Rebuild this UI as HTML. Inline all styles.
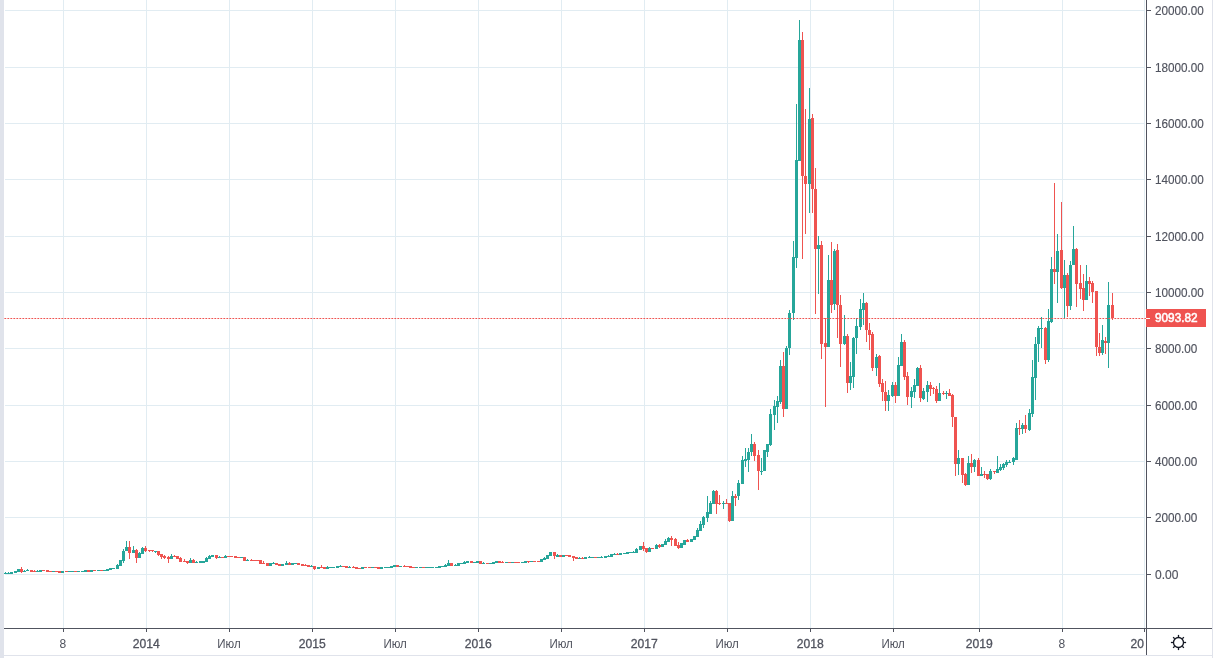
<!DOCTYPE html>
<html lang="ru">
<head>
<meta charset="utf-8">
<title>BTCUSD</title>
<style>
html,body{margin:0;padding:0;background:#ffffff;}
body{width:1213px;height:658px;overflow:hidden;font-family:"Liberation Sans",Arial,sans-serif;}
svg{display:block;position:absolute;left:0;top:0;}
</style>
</head>
<body>
<svg width="1213" height="658" viewBox="0 0 1213 658" shape-rendering="crispEdges">
<rect x="0" y="0" width="1213" height="658" fill="#ffffff"/>
<g fill="#e1ecf2">
<rect x="63" y="0" width="1" height="628"/>
<rect x="146" y="0" width="1" height="628"/>
<rect x="229" y="0" width="1" height="628"/>
<rect x="312" y="0" width="1" height="628"/>
<rect x="395" y="0" width="1" height="628"/>
<rect x="478" y="0" width="1" height="628"/>
<rect x="561" y="0" width="1" height="628"/>
<rect x="644" y="0" width="1" height="628"/>
<rect x="727" y="0" width="1" height="628"/>
<rect x="810" y="0" width="1" height="628"/>
<rect x="893" y="0" width="1" height="628"/>
<rect x="979" y="0" width="1" height="628"/>
<rect x="1062" y="0" width="1" height="628"/>
<rect x="1144" y="0" width="1" height="628"/>
<rect x="5" y="10" width="1140" height="1"/>
<rect x="5" y="67" width="1140" height="1"/>
<rect x="5" y="123" width="1140" height="1"/>
<rect x="5" y="179" width="1140" height="1"/>
<rect x="5" y="236" width="1140" height="1"/>
<rect x="5" y="292" width="1140" height="1"/>
<rect x="5" y="348" width="1140" height="1"/>
<rect x="5" y="405" width="1140" height="1"/>
<rect x="5" y="461" width="1140" height="1"/>
<rect x="5" y="517" width="1140" height="1"/>
<rect x="5" y="574" width="1140" height="1"/>
</g>
<g>
<g fill="#26a69a"><rect x="5" y="572" width="1" height="2"/><rect x="4" y="573" width="3" height="1"/></g>
<g fill="#26a69a"><rect x="8" y="572" width="1" height="2"/><rect x="7" y="573" width="3" height="1"/></g>
<g fill="#26a69a"><rect x="10" y="572" width="3" height="2"/></g>
<g fill="#26a69a"><rect x="14" y="571" width="3" height="2"/></g>
<g fill="#26a69a"><rect x="17" y="569" width="3" height="3"/></g>
<g fill="#ef5350"><rect x="21" y="567" width="1" height="6"/><rect x="20" y="569" width="3" height="3"/></g>
<g fill="#26a69a"><rect x="24" y="570" width="1" height="2"/><rect x="23" y="571" width="3" height="1"/></g>
<g fill="#26a69a"><rect x="27" y="569" width="1" height="2"/><rect x="26" y="570" width="3" height="1"/></g>
<g fill="#ef5350"><rect x="30" y="570" width="3" height="2"/></g>
<g fill="#ef5350"><rect x="34" y="570" width="1" height="2"/><rect x="33" y="571" width="3" height="1"/></g>
<g fill="#26a69a"><rect x="37" y="570" width="1" height="2"/><rect x="36" y="571" width="3" height="1"/></g>
<g fill="#26a69a"><rect x="39" y="570" width="3" height="2"/></g>
<g fill="#ef5350"><rect x="42" y="570" width="3" height="1"/></g>
<g fill="#ef5350"><rect x="46" y="570" width="3" height="2"/></g>
<g fill="#ef5350"><rect x="49" y="571" width="3" height="1"/></g>
<g fill="#26a69a"><rect x="52" y="571" width="3" height="1"/></g>
<g fill="#ef5350"><rect x="55" y="571" width="3" height="1"/></g>
<g fill="#ef5350"><rect x="58" y="571" width="3" height="2"/></g>
<g fill="#26a69a"><rect x="61" y="571" width="3" height="2"/></g>
<g fill="#ef5350"><rect x="65" y="571" width="3" height="1"/></g>
<g fill="#26a69a"><rect x="68" y="571" width="3" height="1"/></g>
<g fill="#26a69a"><rect x="71" y="571" width="3" height="1"/></g>
<g fill="#ef5350"><rect x="74" y="571" width="3" height="1"/></g>
<g fill="#26a69a"><rect x="77" y="571" width="3" height="1"/></g>
<g fill="#26a69a"><rect x="81" y="571" width="3" height="1"/></g>
<g fill="#26a69a"><rect x="84" y="570" width="3" height="2"/></g>
<g fill="#ef5350"><rect x="87" y="570" width="3" height="2"/></g>
<g fill="#26a69a"><rect x="90" y="570" width="3" height="2"/></g>
<g fill="#ef5350"><rect x="93" y="570" width="3" height="1"/></g>
<g fill="#26a69a"><rect x="97" y="570" width="3" height="1"/></g>
<g fill="#ef5350"><rect x="100" y="570" width="3" height="1"/></g>
<g fill="#26a69a"><rect x="103" y="570" width="3" height="1"/></g>
<g fill="#26a69a"><rect x="106" y="569" width="3" height="2"/></g>
<g fill="#26a69a"><rect x="109" y="568" width="3" height="2"/></g>
<g fill="#26a69a"><rect x="112" y="568" width="3" height="1"/></g>
<g fill="#26a69a"><rect x="117" y="564" width="1" height="5"/><rect x="116" y="565" width="3" height="4"/></g>
<g fill="#26a69a"><rect x="119" y="560" width="3" height="6"/></g>
<g fill="#26a69a"><rect x="123" y="549" width="1" height="14"/><rect x="122" y="551" width="3" height="10"/></g>
<g fill="#26a69a"><rect x="126" y="541" width="1" height="10"/><rect x="125" y="547" width="3" height="4"/></g>
<g fill="#ef5350"><rect x="129" y="541" width="1" height="18"/><rect x="128" y="547" width="3" height="6"/></g>
<g fill="#26a69a"><rect x="133" y="546" width="1" height="7"/><rect x="132" y="550" width="3" height="3"/></g>
<g fill="#ef5350"><rect x="136" y="549" width="1" height="14"/><rect x="135" y="550" width="3" height="8"/></g>
<g fill="#26a69a"><rect x="139" y="552" width="1" height="6"/><rect x="138" y="553" width="3" height="5"/></g>
<g fill="#26a69a"><rect x="142" y="547" width="1" height="7"/><rect x="141" y="548" width="3" height="6"/></g>
<g fill="#ef5350"><rect x="145" y="546" width="1" height="6"/><rect x="144" y="548" width="3" height="3"/></g>
<g fill="#ef5350"><rect x="149" y="550" width="1" height="2"/><rect x="148" y="550" width="3" height="1"/></g>
<g fill="#ef5350"><rect x="152" y="550" width="1" height="2"/><rect x="151" y="550" width="3" height="1"/></g>
<g fill="#26a69a"><rect x="155" y="551" width="1" height="2"/><rect x="154" y="551" width="3" height="1"/></g>
<g fill="#ef5350"><rect x="158" y="551" width="1" height="5"/><rect x="157" y="551" width="3" height="4"/></g>
<g fill="#ef5350"><rect x="161" y="554" width="1" height="5"/><rect x="160" y="554" width="3" height="3"/></g>
<g fill="#ef5350"><rect x="164" y="555" width="1" height="4"/><rect x="163" y="556" width="3" height="2"/></g>
<g fill="#ef5350"><rect x="168" y="556" width="1" height="7"/><rect x="167" y="557" width="3" height="2"/></g>
<g fill="#26a69a"><rect x="171" y="554" width="1" height="5"/><rect x="170" y="556" width="3" height="3"/></g>
<g fill="#ef5350"><rect x="174" y="555" width="1" height="2"/><rect x="173" y="556" width="3" height="1"/></g>
<g fill="#ef5350"><rect x="176" y="556" width="3" height="3"/></g>
<g fill="#ef5350"><rect x="180" y="557" width="1" height="5"/><rect x="179" y="558" width="3" height="4"/></g>
<g fill="#ef5350"><rect x="184" y="559" width="1" height="3"/><rect x="183" y="561" width="3" height="1"/></g>
<g fill="#ef5350"><rect x="187" y="561" width="1" height="3"/><rect x="186" y="561" width="3" height="2"/></g>
<g fill="#26a69a"><rect x="190" y="558" width="1" height="5"/><rect x="189" y="560" width="3" height="3"/></g>
<g fill="#ef5350"><rect x="193" y="559" width="1" height="4"/><rect x="192" y="560" width="3" height="3"/></g>
<g fill="#26a69a"><rect x="196" y="561" width="1" height="2"/><rect x="195" y="562" width="3" height="1"/></g>
<g fill="#26a69a"><rect x="199" y="561" width="3" height="2"/></g>
<g fill="#26a69a"><rect x="202" y="561" width="3" height="2"/></g>
<g fill="#26a69a"><rect x="206" y="557" width="1" height="5"/><rect x="205" y="558" width="3" height="4"/></g>
<g fill="#26a69a"><rect x="209" y="555" width="1" height="4"/><rect x="208" y="556" width="3" height="3"/></g>
<g fill="#26a69a"><rect x="211" y="555" width="3" height="2"/></g>
<g fill="#ef5350"><rect x="216" y="555" width="1" height="4"/><rect x="215" y="555" width="3" height="3"/></g>
<g fill="#26a69a"><rect x="219" y="556" width="1" height="2"/><rect x="218" y="557" width="3" height="1"/></g>
<g fill="#ef5350"><rect x="221" y="557" width="3" height="1"/></g>
<g fill="#26a69a"><rect x="225" y="555" width="1" height="3"/><rect x="224" y="556" width="3" height="2"/></g>
<g fill="#ef5350"><rect x="227" y="556" width="3" height="1"/></g>
<g fill="#ef5350"><rect x="230" y="556" width="3" height="1"/></g>
<g fill="#ef5350"><rect x="234" y="556" width="3" height="2"/></g>
<g fill="#ef5350"><rect x="237" y="557" width="3" height="1"/></g>
<g fill="#26a69a"><rect x="240" y="557" width="3" height="1"/></g>
<g fill="#ef5350"><rect x="243" y="557" width="3" height="4"/></g>
<g fill="#26a69a"><rect x="247" y="559" width="1" height="2"/><rect x="246" y="560" width="3" height="1"/></g>
<g fill="#ef5350"><rect x="251" y="559" width="1" height="2"/><rect x="250" y="560" width="3" height="1"/></g>
<g fill="#ef5350"><rect x="253" y="560" width="3" height="1"/></g>
<g fill="#ef5350"><rect x="256" y="560" width="3" height="1"/></g>
<g fill="#ef5350"><rect x="259" y="560" width="3" height="4"/></g>
<g fill="#ef5350"><rect x="263" y="561" width="1" height="3"/><rect x="262" y="563" width="3" height="1"/></g>
<g fill="#ef5350"><rect x="266" y="563" width="3" height="3"/></g>
<g fill="#26a69a"><rect x="269" y="563" width="3" height="3"/></g>
<g fill="#26a69a"><rect x="273" y="562" width="1" height="2"/><rect x="272" y="563" width="3" height="1"/></g>
<g fill="#ef5350"><rect x="275" y="563" width="3" height="2"/></g>
<g fill="#ef5350"><rect x="278" y="564" width="3" height="2"/></g>
<g fill="#26a69a"><rect x="281" y="564" width="3" height="2"/></g>
<g fill="#26a69a"><rect x="286" y="561" width="1" height="4"/><rect x="285" y="563" width="3" height="2"/></g>
<g fill="#ef5350"><rect x="289" y="562" width="1" height="3"/><rect x="288" y="563" width="3" height="2"/></g>
<g fill="#26a69a"><rect x="291" y="563" width="3" height="2"/></g>
<g fill="#26a69a"><rect x="294" y="563" width="3" height="1"/></g>
<g fill="#ef5350"><rect x="297" y="563" width="3" height="2"/></g>
<g fill="#ef5350"><rect x="301" y="564" width="3" height="2"/></g>
<g fill="#ef5350"><rect x="305" y="564" width="1" height="2"/><rect x="304" y="565" width="3" height="1"/></g>
<g fill="#ef5350"><rect x="307" y="565" width="3" height="2"/></g>
<g fill="#26a69a"><rect x="311" y="565" width="1" height="2"/><rect x="310" y="566" width="3" height="1"/></g>
<g fill="#ef5350"><rect x="314" y="566" width="1" height="4"/><rect x="313" y="566" width="3" height="3"/></g>
<g fill="#26a69a"><rect x="317" y="567" width="3" height="2"/></g>
<g fill="#ef5350"><rect x="321" y="565" width="1" height="3"/><rect x="320" y="567" width="3" height="1"/></g>
<g fill="#ef5350"><rect x="323" y="567" width="3" height="2"/></g>
<g fill="#26a69a"><rect x="327" y="566" width="1" height="3"/><rect x="326" y="567" width="3" height="2"/></g>
<g fill="#26a69a"><rect x="329" y="567" width="3" height="1"/></g>
<g fill="#26a69a"><rect x="332" y="567" width="3" height="1"/></g>
<g fill="#26a69a"><rect x="336" y="566" width="3" height="2"/></g>
<g fill="#26a69a"><rect x="340" y="565" width="1" height="2"/><rect x="339" y="566" width="3" height="1"/></g>
<g fill="#ef5350"><rect x="342" y="566" width="3" height="1"/></g>
<g fill="#ef5350"><rect x="345" y="566" width="3" height="2"/></g>
<g fill="#26a69a"><rect x="349" y="566" width="1" height="2"/><rect x="348" y="567" width="3" height="1"/></g>
<g fill="#ef5350"><rect x="353" y="566" width="1" height="2"/><rect x="352" y="567" width="3" height="1"/></g>
<g fill="#ef5350"><rect x="355" y="567" width="3" height="2"/></g>
<g fill="#ef5350"><rect x="358" y="568" width="3" height="1"/></g>
<g fill="#26a69a"><rect x="361" y="567" width="3" height="2"/></g>
<g fill="#ef5350"><rect x="364" y="567" width="3" height="1"/></g>
<g fill="#ef5350"><rect x="368" y="567" width="3" height="1"/></g>
<g fill="#26a69a"><rect x="371" y="567" width="3" height="1"/></g>
<g fill="#ef5350"><rect x="374" y="567" width="3" height="1"/></g>
<g fill="#ef5350"><rect x="377" y="567" width="3" height="2"/></g>
<g fill="#26a69a"><rect x="380" y="567" width="3" height="2"/></g>
<g fill="#26a69a"><rect x="384" y="567" width="3" height="1"/></g>
<g fill="#26a69a"><rect x="387" y="567" width="3" height="1"/></g>
<g fill="#26a69a"><rect x="390" y="566" width="3" height="2"/></g>
<g fill="#26a69a"><rect x="393" y="565" width="3" height="2"/></g>
<g fill="#ef5350"><rect x="396" y="565" width="3" height="2"/></g>
<g fill="#26a69a"><rect x="399" y="566" width="3" height="1"/></g>
<g fill="#ef5350"><rect x="404" y="565" width="1" height="2"/><rect x="403" y="566" width="3" height="1"/></g>
<g fill="#ef5350"><rect x="406" y="566" width="3" height="1"/></g>
<g fill="#ef5350"><rect x="409" y="566" width="3" height="2"/></g>
<g fill="#ef5350"><rect x="412" y="567" width="3" height="1"/></g>
<g fill="#26a69a"><rect x="415" y="567" width="3" height="1"/></g>
<g fill="#26a69a"><rect x="419" y="567" width="3" height="1"/></g>
<g fill="#ef5350"><rect x="422" y="567" width="3" height="1"/></g>
<g fill="#26a69a"><rect x="425" y="567" width="3" height="1"/></g>
<g fill="#26a69a"><rect x="428" y="567" width="3" height="1"/></g>
<g fill="#26a69a"><rect x="431" y="567" width="3" height="1"/></g>
<g fill="#26a69a"><rect x="435" y="567" width="3" height="1"/></g>
<g fill="#26a69a"><rect x="438" y="566" width="3" height="2"/></g>
<g fill="#26a69a"><rect x="441" y="566" width="3" height="1"/></g>
<g fill="#26a69a"><rect x="445" y="564" width="1" height="3"/><rect x="444" y="565" width="3" height="2"/></g>
<g fill="#26a69a"><rect x="448" y="560" width="1" height="6"/><rect x="447" y="563" width="3" height="3"/></g>
<g fill="#ef5350"><rect x="450" y="563" width="3" height="3"/></g>
<g fill="#26a69a"><rect x="455" y="564" width="1" height="2"/><rect x="454" y="565" width="3" height="1"/></g>
<g fill="#26a69a"><rect x="457" y="563" width="3" height="3"/></g>
<g fill="#26a69a"><rect x="460" y="563" width="3" height="1"/></g>
<g fill="#26a69a"><rect x="464" y="561" width="1" height="3"/><rect x="463" y="562" width="3" height="2"/></g>
<g fill="#26a69a"><rect x="466" y="561" width="3" height="2"/></g>
<g fill="#ef5350"><rect x="470" y="561" width="3" height="2"/></g>
<g fill="#26a69a"><rect x="473" y="562" width="3" height="1"/></g>
<g fill="#26a69a"><rect x="476" y="561" width="3" height="2"/></g>
<g fill="#ef5350"><rect x="479" y="561" width="3" height="3"/></g>
<g fill="#26a69a"><rect x="483" y="562" width="1" height="2"/><rect x="482" y="563" width="3" height="1"/></g>
<g fill="#ef5350"><rect x="486" y="563" width="3" height="1"/></g>
<g fill="#26a69a"><rect x="489" y="563" width="3" height="1"/></g>
<g fill="#26a69a"><rect x="492" y="562" width="3" height="2"/></g>
<g fill="#26a69a"><rect x="495" y="561" width="3" height="2"/></g>
<g fill="#ef5350"><rect x="498" y="561" width="3" height="2"/></g>
<g fill="#ef5350"><rect x="502" y="561" width="1" height="2"/><rect x="501" y="562" width="3" height="1"/></g>
<g fill="#26a69a"><rect x="505" y="562" width="3" height="1"/></g>
<g fill="#ef5350"><rect x="508" y="562" width="3" height="1"/></g>
<g fill="#26a69a"><rect x="511" y="562" width="3" height="1"/></g>
<g fill="#ef5350"><rect x="514" y="562" width="3" height="1"/></g>
<g fill="#ef5350"><rect x="517" y="562" width="3" height="1"/></g>
<g fill="#26a69a"><rect x="521" y="562" width="3" height="1"/></g>
<g fill="#26a69a"><rect x="524" y="561" width="3" height="2"/></g>
<g fill="#ef5350"><rect x="528" y="561" width="1" height="2"/><rect x="527" y="561" width="3" height="1"/></g>
<g fill="#26a69a"><rect x="530" y="561" width="3" height="1"/></g>
<g fill="#ef5350"><rect x="533" y="561" width="3" height="1"/></g>
<g fill="#ef5350"><rect x="537" y="561" width="3" height="1"/></g>
<g fill="#26a69a"><rect x="540" y="559" width="3" height="3"/></g>
<g fill="#26a69a"><rect x="544" y="557" width="1" height="3"/><rect x="543" y="558" width="3" height="2"/></g>
<g fill="#26a69a"><rect x="546" y="555" width="3" height="4"/></g>
<g fill="#26a69a"><rect x="549" y="552" width="3" height="4"/></g>
<g fill="#ef5350"><rect x="554" y="552" width="1" height="7"/><rect x="553" y="552" width="3" height="4"/></g>
<g fill="#26a69a"><rect x="557" y="554" width="1" height="3"/><rect x="556" y="555" width="3" height="2"/></g>
<g fill="#ef5350"><rect x="559" y="555" width="3" height="2"/></g>
<g fill="#26a69a"><rect x="562" y="555" width="3" height="2"/></g>
<g fill="#ef5350"><rect x="565" y="555" width="3" height="1"/></g>
<g fill="#ef5350"><rect x="568" y="555" width="3" height="2"/></g>
<g fill="#ef5350"><rect x="573" y="556" width="1" height="5"/><rect x="572" y="556" width="3" height="2"/></g>
<g fill="#ef5350"><rect x="575" y="557" width="3" height="2"/></g>
<g fill="#26a69a"><rect x="579" y="557" width="1" height="2"/><rect x="578" y="558" width="3" height="1"/></g>
<g fill="#ef5350"><rect x="582" y="557" width="1" height="2"/><rect x="581" y="558" width="3" height="1"/></g>
<g fill="#26a69a"><rect x="584" y="557" width="3" height="2"/></g>
<g fill="#26a69a"><rect x="589" y="556" width="1" height="2"/><rect x="588" y="557" width="3" height="1"/></g>
<g fill="#26a69a"><rect x="591" y="557" width="3" height="1"/></g>
<g fill="#ef5350"><rect x="594" y="557" width="3" height="1"/></g>
<g fill="#26a69a"><rect x="597" y="557" width="3" height="1"/></g>
<g fill="#26a69a"><rect x="601" y="556" width="1" height="2"/><rect x="600" y="557" width="3" height="1"/></g>
<g fill="#26a69a"><rect x="604" y="556" width="3" height="2"/></g>
<g fill="#26a69a"><rect x="608" y="555" width="1" height="2"/><rect x="607" y="556" width="3" height="1"/></g>
<g fill="#26a69a"><rect x="610" y="554" width="3" height="3"/></g>
<g fill="#26a69a"><rect x="614" y="553" width="1" height="2"/><rect x="613" y="554" width="3" height="1"/></g>
<g fill="#ef5350"><rect x="617" y="553" width="1" height="2"/><rect x="616" y="554" width="3" height="1"/></g>
<g fill="#26a69a"><rect x="619" y="553" width="3" height="2"/></g>
<g fill="#26a69a"><rect x="623" y="553" width="3" height="1"/></g>
<g fill="#26a69a"><rect x="626" y="552" width="3" height="2"/></g>
<g fill="#26a69a"><rect x="629" y="552" width="3" height="1"/></g>
<g fill="#26a69a"><rect x="633" y="551" width="1" height="2"/><rect x="632" y="552" width="3" height="1"/></g>
<g fill="#26a69a"><rect x="636" y="548" width="1" height="5"/><rect x="635" y="549" width="3" height="4"/></g>
<g fill="#26a69a"><rect x="639" y="546" width="3" height="4"/></g>
<g fill="#ef5350"><rect x="643" y="542" width="1" height="9"/><rect x="642" y="546" width="3" height="3"/></g>
<g fill="#ef5350"><rect x="646" y="548" width="1" height="5"/><rect x="645" y="548" width="3" height="4"/></g>
<g fill="#26a69a"><rect x="649" y="547" width="1" height="5"/><rect x="648" y="548" width="3" height="4"/></g>
<g fill="#ef5350"><rect x="651" y="548" width="3" height="1"/></g>
<g fill="#26a69a"><rect x="656" y="544" width="1" height="5"/><rect x="655" y="545" width="3" height="4"/></g>
<g fill="#ef5350"><rect x="659" y="544" width="1" height="4"/><rect x="658" y="545" width="3" height="2"/></g>
<g fill="#26a69a"><rect x="661" y="544" width="3" height="3"/></g>
<g fill="#26a69a"><rect x="665" y="539" width="1" height="6"/><rect x="664" y="541" width="3" height="4"/></g>
<g fill="#26a69a"><rect x="668" y="537" width="1" height="5"/><rect x="667" y="538" width="3" height="4"/></g>
<g fill="#ef5350"><rect x="671" y="536" width="1" height="10"/><rect x="670" y="538" width="3" height="2"/></g>
<g fill="#ef5350"><rect x="675" y="538" width="1" height="8"/><rect x="674" y="539" width="3" height="7"/></g>
<g fill="#ef5350"><rect x="678" y="542" width="1" height="7"/><rect x="677" y="545" width="3" height="3"/></g>
<g fill="#26a69a"><rect x="680" y="543" width="3" height="5"/></g>
<g fill="#26a69a"><rect x="683" y="540" width="3" height="5"/></g>
<g fill="#ef5350"><rect x="687" y="539" width="1" height="3"/><rect x="686" y="540" width="3" height="2"/></g>
<g fill="#26a69a"><rect x="690" y="539" width="3" height="3"/></g>
<g fill="#26a69a"><rect x="693" y="536" width="3" height="4"/></g>
<g fill="#26a69a"><rect x="697" y="528" width="1" height="9"/><rect x="696" y="530" width="3" height="7"/></g>
<g fill="#26a69a"><rect x="700" y="521" width="1" height="10"/><rect x="699" y="524" width="3" height="7"/></g>
<g fill="#26a69a"><rect x="703" y="516" width="1" height="12"/><rect x="702" y="517" width="3" height="8"/></g>
<g fill="#26a69a"><rect x="707" y="496" width="1" height="26"/><rect x="706" y="512" width="3" height="6"/></g>
<g fill="#26a69a"><rect x="710" y="501" width="1" height="13"/><rect x="709" y="503" width="3" height="11"/></g>
<g fill="#26a69a"><rect x="713" y="490" width="1" height="14"/><rect x="712" y="491" width="3" height="13"/></g>
<g fill="#ef5350"><rect x="716" y="490" width="1" height="24"/><rect x="715" y="491" width="3" height="13"/></g>
<g fill="#ef5350"><rect x="719" y="495" width="1" height="10"/><rect x="718" y="503" width="3" height="1"/></g>
<g fill="#26a69a"><rect x="723" y="501" width="1" height="8"/><rect x="722" y="503" width="3" height="1"/></g>
<g fill="#ef5350"><rect x="726" y="499" width="1" height="5"/><rect x="725" y="503" width="3" height="1"/></g>
<g fill="#ef5350"><rect x="729" y="503" width="1" height="19"/><rect x="728" y="503" width="3" height="18"/></g>
<g fill="#26a69a"><rect x="732" y="491" width="1" height="30"/><rect x="731" y="496" width="3" height="25"/></g>
<g fill="#ef5350"><rect x="735" y="494" width="1" height="12"/><rect x="734" y="496" width="3" height="2"/></g>
<g fill="#26a69a"><rect x="738" y="480" width="1" height="20"/><rect x="737" y="483" width="3" height="13"/></g>
<g fill="#26a69a"><rect x="742" y="456" width="1" height="28"/><rect x="741" y="460" width="3" height="24"/></g>
<g fill="#26a69a"><rect x="745" y="448" width="1" height="19"/><rect x="744" y="459" width="3" height="2"/></g>
<g fill="#26a69a"><rect x="748" y="448" width="1" height="24"/><rect x="747" y="452" width="3" height="8"/></g>
<g fill="#26a69a"><rect x="751" y="434" width="1" height="22"/><rect x="750" y="444" width="3" height="8"/></g>
<g fill="#ef5350"><rect x="754" y="442" width="1" height="19"/><rect x="753" y="444" width="3" height="12"/></g>
<g fill="#ef5350"><rect x="758" y="450" width="1" height="40"/><rect x="757" y="455" width="3" height="16"/></g>
<g fill="#26a69a"><rect x="761" y="458" width="1" height="17"/><rect x="760" y="471" width="3" height="1"/></g>
<g fill="#26a69a"><rect x="763" y="450" width="3" height="21"/></g>
<g fill="#26a69a"><rect x="767" y="444" width="1" height="13"/><rect x="766" y="444" width="3" height="8"/></g>
<g fill="#26a69a"><rect x="770" y="409" width="1" height="37"/><rect x="769" y="414" width="3" height="31"/></g>
<g fill="#26a69a"><rect x="774" y="400" width="1" height="30"/><rect x="773" y="406" width="3" height="9"/></g>
<g fill="#26a69a"><rect x="777" y="396" width="1" height="27"/><rect x="776" y="401" width="3" height="6"/></g>
<g fill="#26a69a"><rect x="780" y="360" width="1" height="44"/><rect x="779" y="366" width="3" height="36"/></g>
<g fill="#ef5350"><rect x="783" y="352" width="1" height="65"/><rect x="782" y="366" width="3" height="43"/></g>
<g fill="#26a69a"><rect x="786" y="346" width="1" height="63"/><rect x="785" y="348" width="3" height="61"/></g>
<g fill="#26a69a"><rect x="789" y="310" width="1" height="45"/><rect x="788" y="313" width="3" height="35"/></g>
<g fill="#26a69a"><rect x="793" y="241" width="1" height="79"/><rect x="792" y="257" width="3" height="56"/></g>
<g fill="#26a69a"><rect x="796" y="104" width="1" height="164"/><rect x="795" y="160" width="3" height="98"/></g>
<g fill="#26a69a"><rect x="799" y="20" width="1" height="141"/><rect x="798" y="40" width="3" height="121"/></g>
<g fill="#ef5350"><rect x="802" y="32" width="1" height="227"/><rect x="801" y="40" width="3" height="136"/></g>
<g fill="#ef5350"><rect x="805" y="109" width="1" height="125"/><rect x="804" y="176" width="3" height="8"/></g>
<g fill="#26a69a"><rect x="809" y="88" width="1" height="125"/><rect x="808" y="119" width="3" height="65"/></g>
<g fill="#ef5350"><rect x="812" y="114" width="1" height="99"/><rect x="811" y="118" width="3" height="71"/></g>
<g fill="#ef5350"><rect x="815" y="168" width="1" height="146"/><rect x="814" y="189" width="3" height="60"/></g>
<g fill="#26a69a"><rect x="818" y="236" width="1" height="58"/><rect x="817" y="245" width="3" height="4"/></g>
<g fill="#ef5350"><rect x="821" y="241" width="1" height="118"/><rect x="820" y="245" width="3" height="99"/></g>
<g fill="#ef5350"><rect x="825" y="318" width="1" height="89"/><rect x="824" y="343" width="3" height="4"/></g>
<g fill="#26a69a"><rect x="828" y="255" width="1" height="92"/><rect x="827" y="280" width="3" height="67"/></g>
<g fill="#ef5350"><rect x="831" y="242" width="1" height="71"/><rect x="830" y="280" width="3" height="25"/></g>
<g fill="#26a69a"><rect x="834" y="249" width="1" height="61"/><rect x="833" y="251" width="3" height="53"/></g>
<g fill="#ef5350"><rect x="837" y="244" width="1" height="94"/><rect x="836" y="250" width="3" height="55"/></g>
<g fill="#ef5350"><rect x="840" y="295" width="1" height="72"/><rect x="839" y="305" width="3" height="39"/></g>
<g fill="#26a69a"><rect x="844" y="315" width="1" height="30"/><rect x="843" y="336" width="3" height="8"/></g>
<g fill="#ef5350"><rect x="847" y="334" width="1" height="59"/><rect x="846" y="336" width="3" height="47"/></g>
<g fill="#26a69a"><rect x="850" y="362" width="1" height="28"/><rect x="849" y="376" width="3" height="7"/></g>
<g fill="#26a69a"><rect x="853" y="337" width="1" height="51"/><rect x="852" y="338" width="3" height="39"/></g>
<g fill="#26a69a"><rect x="856" y="318" width="1" height="36"/><rect x="855" y="326" width="3" height="12"/></g>
<g fill="#26a69a"><rect x="860" y="299" width="1" height="31"/><rect x="859" y="309" width="3" height="18"/></g>
<g fill="#26a69a"><rect x="863" y="293" width="1" height="32"/><rect x="862" y="303" width="3" height="7"/></g>
<g fill="#ef5350"><rect x="866" y="302" width="1" height="40"/><rect x="865" y="303" width="3" height="27"/></g>
<g fill="#ef5350"><rect x="869" y="323" width="1" height="27"/><rect x="868" y="330" width="3" height="5"/></g>
<g fill="#ef5350"><rect x="872" y="332" width="1" height="39"/><rect x="871" y="334" width="3" height="34"/></g>
<g fill="#26a69a"><rect x="876" y="354" width="1" height="22"/><rect x="875" y="357" width="3" height="11"/></g>
<g fill="#ef5350"><rect x="879" y="355" width="1" height="32"/><rect x="878" y="356" width="3" height="28"/></g>
<g fill="#ef5350"><rect x="882" y="379" width="1" height="22"/><rect x="881" y="383" width="3" height="9"/></g>
<g fill="#ef5350"><rect x="885" y="381" width="1" height="30"/><rect x="884" y="392" width="3" height="9"/></g>
<g fill="#26a69a"><rect x="888" y="390" width="1" height="21"/><rect x="887" y="395" width="3" height="6"/></g>
<g fill="#26a69a"><rect x="892" y="382" width="1" height="15"/><rect x="891" y="385" width="3" height="11"/></g>
<g fill="#ef5350"><rect x="895" y="382" width="1" height="21"/><rect x="894" y="385" width="3" height="11"/></g>
<g fill="#26a69a"><rect x="898" y="357" width="1" height="39"/><rect x="897" y="365" width="3" height="31"/></g>
<g fill="#26a69a"><rect x="901" y="334" width="1" height="32"/><rect x="900" y="342" width="3" height="24"/></g>
<g fill="#ef5350"><rect x="904" y="340" width="1" height="40"/><rect x="903" y="342" width="3" height="35"/></g>
<g fill="#ef5350"><rect x="907" y="372" width="1" height="33"/><rect x="906" y="376" width="3" height="21"/></g>
<g fill="#26a69a"><rect x="911" y="387" width="1" height="21"/><rect x="910" y="391" width="3" height="6"/></g>
<g fill="#26a69a"><rect x="914" y="379" width="1" height="19"/><rect x="913" y="385" width="3" height="7"/></g>
<g fill="#26a69a"><rect x="917" y="367" width="1" height="19"/><rect x="916" y="368" width="3" height="18"/></g>
<g fill="#ef5350"><rect x="920" y="365" width="1" height="37"/><rect x="919" y="368" width="3" height="30"/></g>
<g fill="#26a69a"><rect x="923" y="388" width="1" height="12"/><rect x="922" y="391" width="3" height="8"/></g>
<g fill="#26a69a"><rect x="927" y="381" width="1" height="21"/><rect x="926" y="385" width="3" height="7"/></g>
<g fill="#ef5350"><rect x="930" y="382" width="1" height="14"/><rect x="929" y="385" width="3" height="4"/></g>
<g fill="#ef5350"><rect x="933" y="387" width="1" height="7"/><rect x="932" y="388" width="3" height="1"/></g>
<g fill="#ef5350"><rect x="936" y="386" width="1" height="17"/><rect x="935" y="389" width="3" height="12"/></g>
<g fill="#26a69a"><rect x="939" y="383" width="1" height="18"/><rect x="938" y="393" width="3" height="8"/></g>
<g fill="#ef5350"><rect x="943" y="391" width="1" height="4"/><rect x="942" y="393" width="3" height="1"/></g>
<g fill="#26a69a"><rect x="946" y="391" width="1" height="8"/><rect x="945" y="393" width="3" height="1"/></g>
<g fill="#ef5350"><rect x="949" y="389" width="1" height="7"/><rect x="948" y="393" width="3" height="3"/></g>
<g fill="#ef5350"><rect x="952" y="394" width="1" height="33"/><rect x="951" y="395" width="3" height="22"/></g>
<g fill="#ef5350"><rect x="955" y="417" width="1" height="59"/><rect x="954" y="417" width="3" height="47"/></g>
<g fill="#26a69a"><rect x="958" y="450" width="1" height="25"/><rect x="957" y="458" width="3" height="6"/></g>
<g fill="#ef5350"><rect x="962" y="458" width="1" height="25"/><rect x="961" y="458" width="3" height="17"/></g>
<g fill="#ef5350"><rect x="965" y="473" width="1" height="13"/><rect x="964" y="474" width="3" height="11"/></g>
<g fill="#26a69a"><rect x="968" y="456" width="1" height="29"/><rect x="967" y="463" width="3" height="22"/></g>
<g fill="#ef5350"><rect x="971" y="454" width="1" height="19"/><rect x="970" y="463" width="3" height="4"/></g>
<g fill="#26a69a"><rect x="974" y="459" width="1" height="13"/><rect x="973" y="460" width="3" height="7"/></g>
<g fill="#ef5350"><rect x="978" y="458" width="1" height="18"/><rect x="977" y="460" width="3" height="16"/></g>
<g fill="#26a69a"><rect x="981" y="467" width="1" height="9"/><rect x="980" y="474" width="3" height="2"/></g>
<g fill="#ef5350"><rect x="984" y="471" width="1" height="7"/><rect x="983" y="474" width="3" height="1"/></g>
<g fill="#ef5350"><rect x="987" y="474" width="1" height="6"/><rect x="986" y="474" width="3" height="5"/></g>
<g fill="#26a69a"><rect x="990" y="469" width="1" height="11"/><rect x="989" y="471" width="3" height="8"/></g>
<g fill="#ef5350"><rect x="994" y="471" width="1" height="3"/><rect x="993" y="471" width="3" height="1"/></g>
<g fill="#26a69a"><rect x="997" y="456" width="1" height="17"/><rect x="996" y="469" width="3" height="4"/></g>
<g fill="#26a69a"><rect x="1000" y="464" width="1" height="7"/><rect x="999" y="467" width="3" height="3"/></g>
<g fill="#26a69a"><rect x="1003" y="463" width="1" height="7"/><rect x="1002" y="464" width="3" height="4"/></g>
<g fill="#26a69a"><rect x="1006" y="460" width="1" height="7"/><rect x="1005" y="462" width="3" height="3"/></g>
<g fill="#26a69a"><rect x="1009" y="460" width="1" height="3"/><rect x="1008" y="462" width="3" height="1"/></g>
<g fill="#26a69a"><rect x="1013" y="457" width="1" height="8"/><rect x="1012" y="458" width="3" height="4"/></g>
<g fill="#26a69a"><rect x="1016" y="423" width="1" height="37"/><rect x="1015" y="428" width="3" height="32"/></g>
<g fill="#ef5350"><rect x="1019" y="420" width="1" height="15"/><rect x="1018" y="428" width="3" height="1"/></g>
<g fill="#26a69a"><rect x="1022" y="423" width="1" height="11"/><rect x="1021" y="425" width="3" height="4"/></g>
<g fill="#ef5350"><rect x="1025" y="415" width="1" height="18"/><rect x="1024" y="425" width="3" height="4"/></g>
<g fill="#26a69a"><rect x="1029" y="409" width="1" height="22"/><rect x="1028" y="413" width="3" height="17"/></g>
<g fill="#26a69a"><rect x="1032" y="360" width="1" height="57"/><rect x="1031" y="377" width="3" height="37"/></g>
<g fill="#26a69a"><rect x="1035" y="337" width="1" height="63"/><rect x="1034" y="344" width="3" height="34"/></g>
<g fill="#26a69a"><rect x="1038" y="326" width="1" height="36"/><rect x="1037" y="328" width="3" height="16"/></g>
<g fill="#26a69a"><rect x="1041" y="317" width="1" height="31"/><rect x="1040" y="328" width="3" height="1"/></g>
<g fill="#ef5350"><rect x="1045" y="327" width="1" height="37"/><rect x="1044" y="328" width="3" height="32"/></g>
<g fill="#26a69a"><rect x="1048" y="309" width="1" height="53"/><rect x="1047" y="321" width="3" height="39"/></g>
<g fill="#26a69a"><rect x="1051" y="257" width="1" height="66"/><rect x="1050" y="269" width="3" height="53"/></g>
<g fill="#ef5350"><rect x="1054" y="183" width="1" height="101"/><rect x="1053" y="269" width="3" height="3"/></g>
<g fill="#26a69a"><rect x="1057" y="234" width="1" height="69"/><rect x="1056" y="251" width="3" height="21"/></g>
<g fill="#ef5350"><rect x="1061" y="202" width="1" height="87"/><rect x="1060" y="250" width="3" height="38"/></g>
<g fill="#26a69a"><rect x="1064" y="260" width="1" height="58"/><rect x="1063" y="275" width="3" height="13"/></g>
<g fill="#ef5350"><rect x="1067" y="273" width="1" height="44"/><rect x="1066" y="275" width="3" height="31"/></g>
<g fill="#26a69a"><rect x="1070" y="261" width="1" height="49"/><rect x="1069" y="265" width="3" height="41"/></g>
<g fill="#26a69a"><rect x="1073" y="226" width="1" height="39"/><rect x="1072" y="249" width="3" height="16"/></g>
<g fill="#ef5350"><rect x="1076" y="248" width="1" height="59"/><rect x="1075" y="249" width="3" height="35"/></g>
<g fill="#ef5350"><rect x="1080" y="265" width="1" height="34"/><rect x="1079" y="283" width="3" height="6"/></g>
<g fill="#ef5350"><rect x="1083" y="274" width="1" height="37"/><rect x="1082" y="288" width="3" height="12"/></g>
<g fill="#26a69a"><rect x="1086" y="265" width="1" height="35"/><rect x="1085" y="281" width="3" height="19"/></g>
<g fill="#ef5350"><rect x="1089" y="277" width="1" height="19"/><rect x="1088" y="281" width="3" height="3"/></g>
<g fill="#ef5350"><rect x="1092" y="281" width="1" height="22"/><rect x="1091" y="283" width="3" height="9"/></g>
<g fill="#ef5350"><rect x="1096" y="291" width="1" height="65"/><rect x="1095" y="291" width="3" height="56"/></g>
<g fill="#ef5350"><rect x="1099" y="333" width="1" height="23"/><rect x="1098" y="347" width="3" height="6"/></g>
<g fill="#26a69a"><rect x="1102" y="325" width="1" height="30"/><rect x="1101" y="340" width="3" height="13"/></g>
<g fill="#ef5350"><rect x="1105" y="337" width="1" height="17"/><rect x="1104" y="341" width="3" height="2"/></g>
<g fill="#26a69a"><rect x="1108" y="282" width="1" height="86"/><rect x="1107" y="305" width="3" height="38"/></g>
<g fill="#ef5350"><rect x="1112" y="293" width="1" height="27"/><rect x="1111" y="305" width="3" height="13"/></g>
</g>
<g fill="#ef5350">
</g>
<line x1="4.4" y1="318.5" x2="1146" y2="318.5" stroke="#ef5350" stroke-width="1" stroke-dasharray="1.8 1.2" shape-rendering="auto"/>
<rect x="0" y="0" width="4" height="658" fill="#e0e3eb"/>
<rect x="1212" y="0" width="1" height="658" fill="#e0e3eb"/>
<rect x="4" y="655" width="1209" height="1" fill="#e0e3eb"/>
<g fill="#50535e">
<rect x="1146" y="0" width="1" height="655"/>
<rect x="4" y="628" width="1208" height="1"/>
<rect x="1147" y="10" width="4" height="1"/>
<rect x="1147" y="67" width="4" height="1"/>
<rect x="1147" y="123" width="4" height="1"/>
<rect x="1147" y="179" width="4" height="1"/>
<rect x="1147" y="236" width="4" height="1"/>
<rect x="1147" y="292" width="4" height="1"/>
<rect x="1147" y="348" width="4" height="1"/>
<rect x="1147" y="405" width="4" height="1"/>
<rect x="1147" y="461" width="4" height="1"/>
<rect x="1147" y="517" width="4" height="1"/>
<rect x="1147" y="574" width="4" height="1"/>
<rect x="63" y="629" width="1" height="3"/>
<rect x="146" y="629" width="1" height="3"/>
<rect x="229" y="629" width="1" height="3"/>
<rect x="312" y="629" width="1" height="3"/>
<rect x="395" y="629" width="1" height="3"/>
<rect x="478" y="629" width="1" height="3"/>
<rect x="561" y="629" width="1" height="3"/>
<rect x="644" y="629" width="1" height="3"/>
<rect x="727" y="629" width="1" height="3"/>
<rect x="810" y="629" width="1" height="3"/>
<rect x="893" y="629" width="1" height="3"/>
<rect x="979" y="629" width="1" height="3"/>
<rect x="1062" y="629" width="1" height="3"/>
<rect x="1144" y="629" width="1" height="3"/>
</g>
<g font-family="'Liberation Sans', Arial, sans-serif" font-size="12" fill="#50535e" shape-rendering="auto">
<text x="1155" y="14.7" textLength="48.9" lengthAdjust="spacingAndGlyphs" stroke="#50535e" stroke-width="0.15">20000.00</text>
<text x="1155" y="71.7" textLength="48.9" lengthAdjust="spacingAndGlyphs" stroke="#50535e" stroke-width="0.15">18000.00</text>
<text x="1155" y="127.7" textLength="48.9" lengthAdjust="spacingAndGlyphs" stroke="#50535e" stroke-width="0.15">16000.00</text>
<text x="1155" y="183.7" textLength="48.9" lengthAdjust="spacingAndGlyphs" stroke="#50535e" stroke-width="0.15">14000.00</text>
<text x="1155" y="240.7" textLength="48.9" lengthAdjust="spacingAndGlyphs" stroke="#50535e" stroke-width="0.15">12000.00</text>
<text x="1155" y="296.7" textLength="48.9" lengthAdjust="spacingAndGlyphs" stroke="#50535e" stroke-width="0.15">10000.00</text>
<text x="1155" y="352.7" textLength="42.4" lengthAdjust="spacingAndGlyphs" stroke="#50535e" stroke-width="0.15">8000.00</text>
<text x="1155" y="409.7" textLength="42.4" lengthAdjust="spacingAndGlyphs" stroke="#50535e" stroke-width="0.15">6000.00</text>
<text x="1155" y="465.7" textLength="42.4" lengthAdjust="spacingAndGlyphs" stroke="#50535e" stroke-width="0.15">4000.00</text>
<text x="1155" y="521.7" textLength="42.4" lengthAdjust="spacingAndGlyphs" stroke="#50535e" stroke-width="0.15">2000.00</text>
<text x="1155" y="578.7" textLength="23.4" lengthAdjust="spacingAndGlyphs" stroke="#50535e" stroke-width="0.15">0.00</text>
<text x="62.9" y="648" text-anchor="middle">8</text>
<text x="132.8" y="648" stroke="#50535e" stroke-width="0.3" textLength="27" lengthAdjust="spacingAndGlyphs">2014</text>
<text x="217.3" y="648" textLength="23.4" lengthAdjust="spacingAndGlyphs">Июл</text>
<text x="298.8" y="648" stroke="#50535e" stroke-width="0.3" textLength="27" lengthAdjust="spacingAndGlyphs">2015</text>
<text x="383.4" y="648" textLength="23.4" lengthAdjust="spacingAndGlyphs">Июл</text>
<text x="464.8" y="648" stroke="#50535e" stroke-width="0.3" textLength="27" lengthAdjust="spacingAndGlyphs">2016</text>
<text x="549.4" y="648" textLength="23.4" lengthAdjust="spacingAndGlyphs">Июл</text>
<text x="630.8" y="648" stroke="#50535e" stroke-width="0.3" textLength="27" lengthAdjust="spacingAndGlyphs">2017</text>
<text x="715.4" y="648" textLength="23.4" lengthAdjust="spacingAndGlyphs">Июл</text>
<text x="796.8" y="648" stroke="#50535e" stroke-width="0.3" textLength="27" lengthAdjust="spacingAndGlyphs">2018</text>
<text x="881.4" y="648" textLength="23.4" lengthAdjust="spacingAndGlyphs">Июл</text>
<text x="965.8" y="648" stroke="#50535e" stroke-width="0.3" textLength="27" lengthAdjust="spacingAndGlyphs">2019</text>
<text x="1061.9" y="648" text-anchor="middle">8</text>
<text x="1130.6" y="648" stroke="#50535e" stroke-width="0.3" textLength="13.4" lengthAdjust="spacingAndGlyphs">20</text>
</g>
<rect x="1146" y="309" width="60" height="18" fill="#ef5350"/>
<rect x="1146" y="318" width="4" height="1" fill="#ffffff"/>
<text x="1155" y="322" font-family="'Liberation Sans', Arial, sans-serif" font-size="12.3" fill="#ffffff" stroke="#ffffff" stroke-width="0.55" shape-rendering="auto" textLength="42.6" lengthAdjust="spacingAndGlyphs">9093.82</text>
<g shape-rendering="auto" stroke="#131722" fill="none" stroke-width="1.3" stroke-linecap="butt">
<circle cx="1178.5" cy="642.5" r="5"/>
<line x1="1183.90" y1="642.50" x2="1186.10" y2="642.50"/>
<line x1="1182.32" y1="646.32" x2="1183.87" y2="647.87"/>
<line x1="1178.50" y1="647.90" x2="1178.50" y2="650.10"/>
<line x1="1174.68" y1="646.32" x2="1173.13" y2="647.87"/>
<line x1="1173.10" y1="642.50" x2="1170.90" y2="642.50"/>
<line x1="1174.68" y1="638.68" x2="1173.13" y2="637.13"/>
<line x1="1178.50" y1="637.10" x2="1178.50" y2="634.90"/>
<line x1="1182.32" y1="638.68" x2="1183.87" y2="637.13"/>
</g>
</svg>
</body>
</html>
